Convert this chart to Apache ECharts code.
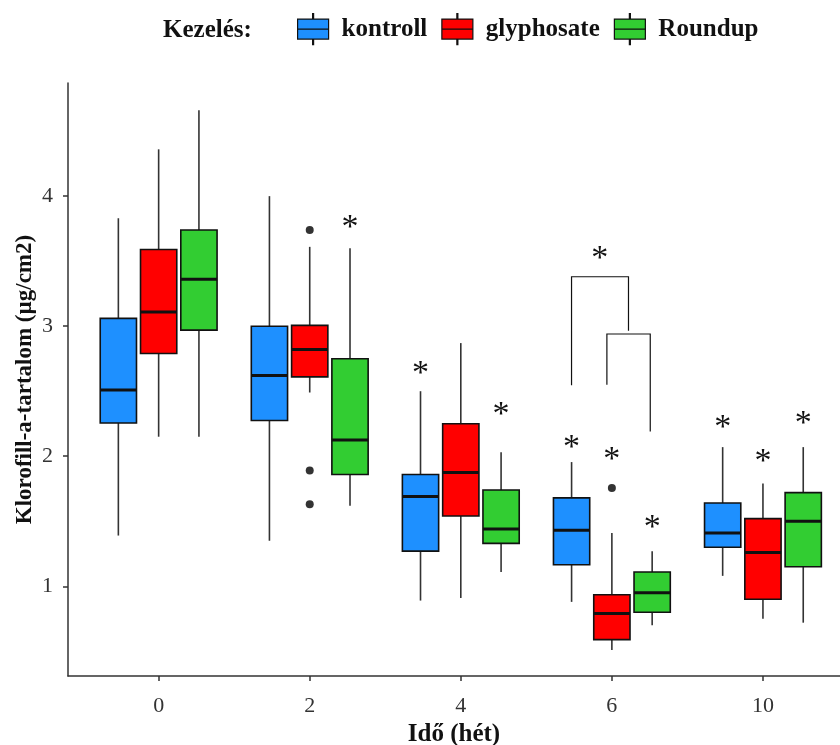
<!DOCTYPE html>
<html>
<head>
<meta charset="utf-8">
<script src="https://cdn.jsdelivr.net/npm/echarts@6/dist/echarts.min.js"></script>
<style>
  html, body { margin: 0; padding: 0; background: #fff; }
  #chart { width: 840px; height: 745px; }
</style>
</head>
<body>
<div id="chart"></div>
<script>
// idő (hét)
const categories = ['0', '2', '4', '6', '10'];
// [alsó bajusz, Q1, medián, Q3, felső bajusz]
const kontroll = [
  [1.39, 2.255, 2.51, 3.06, 3.83],
  [1.35, 2.275, 2.62, 3.00, 4.00],
  [0.89, 1.27, 1.69, 1.86, 2.50],
  [0.88, 1.165, 1.43, 1.68, 1.955],
  [1.08, 1.30, 1.41, 1.64, 2.07]
];
const glyphosate = [
  [2.15, 2.79, 3.11, 3.59, 4.36],
  [2.49, 2.61, 2.82, 3.006, 3.61],
  [0.91, 1.54, 1.875, 2.25, 2.87],
  [0.51, 0.59, 0.79, 0.935, 1.41],
  [0.75, 0.90, 1.26, 1.52, 1.79]
];
const roundup = [
  [2.15, 2.97, 3.36, 3.74, 4.66],
  [1.62, 1.86, 2.125, 2.75, 3.60],
  [1.11, 1.33, 1.44, 1.74, 2.03],
  [0.70, 0.80, 0.95, 1.11, 1.27],
  [0.72, 1.15, 1.50, 1.72, 2.07]
];
// kiugró értékek: [kategória, érték]
const glyphosateOutliers = [[1, 3.74], [1, 1.89], [1, 1.63], [3, 1.755]];
// csillagok: [kategória, csoport (0,1,2), y]
const stars = [
  [1, 2, 3.80],
  [2, 0, 2.68], [2, 2, 2.365],
  [3, 0, 2.11], [3, 1, 2.02], [3, 2, 1.49],
  [4, 0, 2.26], [4, 1, 2.00], [4, 2, 2.29]
];
// zárójelek: [x bal, x jobb, teteje, bal láb alja, jobb láb alja]
const brackets = [
  [2.733, 3.11, 3.38, 2.545, 2.965],
  [2.967, 3.254, 2.94, 2.55, 2.19]
];
const bracketStars = [[2.92, 3.56]];

const names = ['kontroll', 'glyphosate', 'Roundup'];
const colors = ['#1E90FF', '#FF0000', '#32CD32'];
const dodge = 0.8 / 3;
const boxW = 0.24;
const serif = '"Liberation Serif", "DejaVu Serif", serif';

function boxItem(offset) {
  return function (params, api) {
    const c = api.value(0) + offset;
    const lo = api.coord([c, api.value(1)]);
    const q1 = api.coord([c, api.value(2)]);
    const md = api.coord([c, api.value(3)]);
    const q3 = api.coord([c, api.value(4)]);
    const hi = api.coord([c, api.value(5)]);
    const half = api.size([boxW, 0])[0] / 2;
    const x = lo[0];
    const whisker = { stroke: '#333', lineWidth: 1.6 };
    return {
      type: 'group',
      children: [
        { type: 'line', shape: { x1: x, y1: hi[1], x2: x, y2: q3[1] }, style: whisker },
        { type: 'line', shape: { x1: x, y1: q1[1], x2: x, y2: lo[1] }, style: whisker },
        {
          type: 'rect',
          shape: { x: x - half, y: q3[1], width: half * 2, height: q1[1] - q3[1] },
          style: { fill: api.visual('color'), stroke: '#111', lineWidth: 1.6 }
        },
        {
          type: 'line',
          shape: { x1: x - half, y1: md[1], x2: x + half, y2: md[1] },
          style: { stroke: '#111', lineWidth: 3 }
        }
      ]
    };
  };
}

const boxSeries = [kontroll, glyphosate, roundup].map(function (rows, g) {
  return {
    name: names[g],
    type: 'custom',
    renderItem: boxItem((g - 1) * dodge),
    itemStyle: { color: colors[g] },
    encode: { x: 0, y: [1, 2, 3, 4, 5] },
    data: rows.map(function (r, i) { return [i].concat(r); })
  };
});

const starData = stars.map(function (s) { return [s[0] + (s[1] - 1) * dodge, s[2]]; })
  .concat(bracketStars);

const myChart = echarts.init(document.getElementById('chart'));
myChart.setOption({
  animation: false,
  title: {
    text: 'Kezelés:',
    left: 158,
    top: 13,
    textStyle: { fontFamily: serif, fontWeight: 'bold', fontSize: 25, color: '#111' }
  },
  legend: {
    data: names,
    left: 292,
    top: 8,
    itemWidth: 31,
    itemHeight: 31,
    itemGap: 14,
    icon: 'path://M15,0h1v5.5h-1Z M0,5.5h31v10h-31Z M0,15.5h31v10h-31Z M15,25.5h1v5.5h-1Z',
    itemStyle: { borderColor: '#111', borderWidth: 1.2 },
    textStyle: {
      fontFamily: serif, fontWeight: 'bold', fontSize: 25, color: '#111',
      padding: [0, 0, 0, 8]
    }
  },
  grid: { left: 68, right: 0, top: 83, bottom: 69, outerBoundsMode: 'none' },
  xAxis: {
    type: 'value',
    min: -0.6,
    max: 4.51,
    name: 'Idő (hét)',
    nameLocation: 'middle',
    nameGap: 44,
    nameTextStyle: { fontFamily: serif, fontWeight: 'bold', fontSize: 25, color: '#111' },
    axisLine: { show: true, onZero: false, lineStyle: { color: '#333', width: 1.5 } },
    axisTick: { show: true, length: 5, lineStyle: { color: '#333', width: 1.5 }, customValues: [0, 1, 2, 3, 4] },
    axisLabel: {
      customValues: [0, 1, 2, 3, 4],
      formatter: function (v) { return categories[Math.round(v)]; },
      fontFamily: serif, fontSize: 22, color: '#333', margin: 19
    },
    splitLine: { show: false }
  },
  yAxis: {
    type: 'value',
    min: 0.31,
    max: 4.87,
    name: 'Klorofill-a-tartalom (µg/cm2)',
    nameLocation: 'middle',
    nameGap: 31,
    nameMoveOverlap: false,
    nameTextStyle: { fontFamily: serif, fontWeight: 'bold', fontSize: 23, color: '#111' },
    axisLine: { show: true, onZero: false, lineStyle: { color: '#333', width: 1.5 } },
    axisTick: { show: true, length: 5, lineStyle: { color: '#333', width: 1.5 }, customValues: [1, 2, 3, 4] },
    axisLabel: {
      customValues: [1, 2, 3, 4],
      fontFamily: serif, fontSize: 22, color: '#333', margin: 15
    },
    splitLine: { show: false }
  },
  series: boxSeries.concat([
    {
      name: 'glyphosate outliers',
      type: 'scatter',
      symbolSize: 8,
      itemStyle: { color: '#000' },
      data: glyphosateOutliers
    },
    {
      name: 'brackets',
      type: 'custom',
      renderItem: function (params, api) {
        const a = api.coord([api.value(0), api.value(3)]);
        const b = api.coord([api.value(0), api.value(2)]);
        const c = api.coord([api.value(1), api.value(2)]);
        const d = api.coord([api.value(1), api.value(4)]);
        return {
          type: 'polyline',
          shape: { points: [a, b, c, d] },
          style: { stroke: '#111', lineWidth: 1.2, fill: null }
        };
      },
      data: brackets
    },
    {
      name: 'stars',
      type: 'custom',
      renderItem: function (params, api) {
        const p = api.coord([api.value(0), api.value(1)]);
        return {
          type: 'text',
          style: {
            text: '*', x: p[0], y: p[1] + 6,
            align: 'center', verticalAlign: 'middle',
            font: '34px ' + serif, fill: '#111'
          }
        };
      },
      data: starData
    }
  ])
});
</script>
</body>
</html>
